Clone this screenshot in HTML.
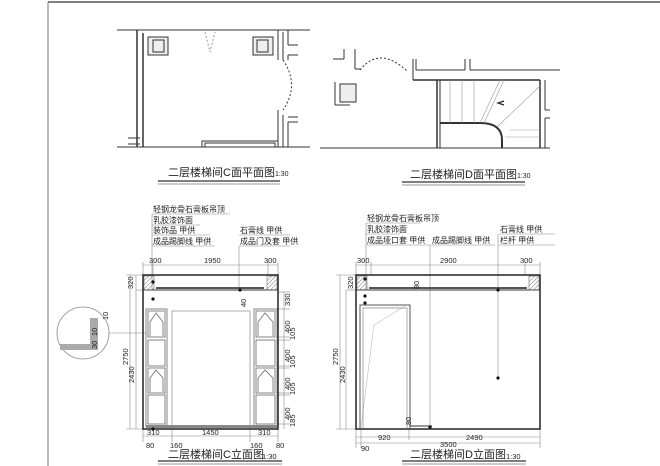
<!DOCTYPE html>
<html><head><meta charset="utf-8"><style>
html,body{margin:0;padding:0;background:#fff}
svg{display:block}
text{font-family:"Liberation Sans","Noto Sans CJK SC",sans-serif;fill:#222}
.c{font-family:"Liberation Sans","Noto Sans CJK SC",sans-serif}
</style></head><body>
<svg width="660" height="466" viewBox="0 0 660 466" xmlns="http://www.w3.org/2000/svg">
<defs>
<pattern id="h" width="3" height="3" patternUnits="userSpaceOnUse" patternTransform="rotate(45)"><line x1="0" y1="0" x2="0" y2="3" stroke="#777" stroke-width="1"/></pattern>
</defs>
<line x1="48" y1="2" x2="660" y2="2" stroke="#555" stroke-width="1.5"/>
<line x1="48" y1="2" x2="48" y2="466" stroke="#777" stroke-width="1"/>

<!-- Plan C -->
<g stroke="#333" fill="none" stroke-width="1">
<line x1="117" y1="30" x2="310" y2="30"/>
<line x1="117" y1="147" x2="310" y2="147"/>
<line x1="137" y1="30" x2="137" y2="147" stroke-width="1.5"/>
<line x1="143" y1="33" x2="143" y2="147" stroke-width="1.5"/>
<line x1="128" y1="138" x2="140" y2="138"/><line x1="128" y1="144" x2="140" y2="144"/>
<rect x="148" y="37" width="20" height="18" fill="#eee"/>
<rect x="153" y="40" width="11" height="12"/>
<rect x="253" y="37" width="20" height="18" fill="#eee"/>
<rect x="257" y="40" width="11" height="12"/>
<line x1="278" y1="30" x2="278" y2="60"/><line x1="283" y1="32" x2="283" y2="60"/>
<line x1="278" y1="110" x2="278" y2="147"/><line x1="283" y1="115" x2="283" y2="147"/>
<line x1="288" y1="30" x2="288" y2="45"/><line x1="288" y1="45" x2="298" y2="45"/>
<line x1="288" y1="55" x2="298" y2="55"/><line x1="288" y1="55" x2="288" y2="60"/>
<line x1="288" y1="117" x2="298" y2="117"/><line x1="288" y1="122" x2="298" y2="122"/>
<line x1="288" y1="122" x2="288" y2="147"/>
<path d="M283 60 Q300 85 283 110" stroke-dasharray="2 2"/>
<path d="M205 32 L210 52 L215 32" stroke-dasharray="2 2" stroke="#999"/>
<rect x="202" y="141" width="76" height="6"/>
<rect x="205" y="143" width="70" height="4"/>
</g>
<text x="168" y="176" font-size="11" class="c">二层楼梯间C面平面图<tspan font-size="7">1:30</tspan></text>
<line x1="158" y1="181" x2="280" y2="181" stroke="#333" stroke-width="1.2"/>
<line x1="158" y1="184" x2="280" y2="184" stroke="#333" stroke-width="0.6"/>

<!-- Plan D -->
<g stroke="#333" fill="none" stroke-width="1">
<line x1="320" y1="148" x2="550" y2="148"/>
<line x1="333" y1="59" x2="344" y2="59"/><line x1="344" y1="59" x2="344" y2="49"/>
<line x1="355" y1="49" x2="355" y2="69"/><line x1="355" y1="69" x2="360" y2="69"/>
<line x1="335" y1="82" x2="335" y2="105"/><line x1="335" y1="105" x2="350" y2="105"/>
<rect x="340" y="84" width="16" height="18" fill="#eee"/>
<path d="M360 70 Q380 45 408 72" stroke-dasharray="2 2"/>
<line x1="413" y1="59" x2="413" y2="80"/><line x1="416" y1="59" x2="416" y2="70"/>
<line x1="416" y1="70" x2="465" y2="70"/><line x1="465" y1="70" x2="465" y2="59"/>
<line x1="470" y1="59" x2="470" y2="70"/><line x1="470" y1="70" x2="560" y2="70"/>
<line x1="413" y1="80" x2="540" y2="80" stroke-width="1.5"/>
<line x1="437" y1="80" x2="437" y2="148" stroke-width="1.5"/>
<line x1="440" y1="80" x2="440" y2="148"/>
<line x1="540" y1="80" x2="540" y2="148" stroke-width="1.5"/>
<line x1="545" y1="80" x2="545" y2="110"/><line x1="545" y1="110" x2="550" y2="110"/>
<line x1="545" y1="118" x2="545" y2="148"/><line x1="545" y1="118" x2="550" y2="118"/>
<path d="M440 123 L480 123 Q502 123 502 140 L502 148" stroke-width="2"/>
<g stroke="#999" stroke-width="0.6">
<line x1="450" y1="80" x2="450" y2="123"/><line x1="462" y1="80" x2="462" y2="123"/><line x1="474" y1="80" x2="474" y2="123"/>
<line x1="480" y1="123" x2="500" y2="80"/><line x1="484" y1="123" x2="504" y2="80"/>
<line x1="497" y1="127" x2="540" y2="86"/><line x1="505" y1="137" x2="540" y2="137"/><line x1="510" y1="130" x2="540" y2="130"/>
</g>
</g>
<path d="M504 101 L498 103 L504 105" fill="none" stroke="#222" stroke-width="1.2"/>
<text x="410" y="178" font-size="11" class="c">二层楼梯间D面平面图<tspan font-size="7">1:30</tspan></text>
<line x1="402" y1="182" x2="525" y2="182" stroke="#333" stroke-width="1.2"/>
<line x1="402" y1="185" x2="525" y2="185" stroke="#333" stroke-width="0.6"/>

<!-- Elevation C -->
<g font-size="8">
<text x="153" y="212">轻钢龙骨石膏板吊顶</text>
<text x="153" y="223">乳胶漆饰面</text>
<text x="153" y="233">装饰品 甲供</text>
<text x="153" y="244">成品踢脚线 甲供</text>
<text x="240" y="233">石膏线 甲供</text>
<text x="240" y="244">成品门及套 甲供</text>
</g>
<g stroke="#888" stroke-width="0.6" fill="none">
<line x1="152" y1="214" x2="230" y2="214"/><line x1="152" y1="225" x2="200" y2="225"/><line x1="152" y1="235" x2="210" y2="235"/><line x1="152" y1="246" x2="215" y2="246"/>
<line x1="152" y1="214" x2="152" y2="290"/>
<line x1="239" y1="235" x2="290" y2="235"/><line x1="239" y1="246" x2="290" y2="246"/><line x1="239" y1="246" x2="239" y2="290"/>
<line x1="143" y1="265" x2="278" y2="265"/>
<line x1="143" y1="262" x2="143" y2="275"/><line x1="153" y1="262" x2="153" y2="275"/><line x1="268" y1="262" x2="268" y2="275"/><line x1="278" y1="262" x2="278" y2="275"/>
<line x1="136" y1="275" x2="136" y2="429"/><line x1="130" y1="275" x2="130" y2="429"/>
<line x1="126" y1="275" x2="143" y2="275"/><line x1="126" y1="429" x2="143" y2="429"/>
<line x1="136" y1="290" x2="143" y2="290"/>
<line x1="284" y1="292" x2="284" y2="429"/>
<line x1="278" y1="292" x2="290" y2="292"/><line x1="278" y1="309" x2="290" y2="309"/><line x1="278" y1="337" x2="290" y2="337"/><line x1="278" y1="340" x2="290" y2="340"/><line x1="278" y1="366" x2="290" y2="366"/><line x1="278" y1="368" x2="290" y2="368"/><line x1="278" y1="393" x2="290" y2="393"/><line x1="278" y1="395" x2="290" y2="395"/><line x1="278" y1="424" x2="290" y2="424"/>
<line x1="143" y1="436" x2="278" y2="436"/>
<line x1="143" y1="429" x2="143" y2="442"/><line x1="172" y1="429" x2="172" y2="442"/><line x1="250" y1="429" x2="250" y2="442"/><line x1="278" y1="429" x2="278" y2="442"/>
<line x1="109" y1="333" x2="146" y2="333"/>
</g>
<rect x="143" y="275" width="135" height="154" fill="none" stroke="#222" stroke-width="1.5"/>
<line x1="143" y1="290" x2="278" y2="290" stroke="#333"/>
<rect x="144" y="276" width="10" height="14" fill="url(#h)" stroke="#555" stroke-width="0.5"/>
<rect x="267" y="276" width="10" height="14" fill="url(#h)" stroke="#555" stroke-width="0.5"/>
<line x1="156" y1="288" x2="264" y2="288" stroke="#555" stroke-width="2"/>
<rect x="172" y="311" width="78" height="116" fill="none" stroke="#999" stroke-width="0.8"/>
<g fill="none" stroke="#666" stroke-width="0.8">
<rect x="146" y="309" width="21" height="118"/>
<rect x="148" y="311" width="17" height="26"/><rect x="148" y="340" width="17" height="26"/><rect x="148" y="368" width="17" height="25"/><rect x="148" y="395" width="17" height="29"/>
<rect x="254" y="309" width="23" height="118"/>
<rect x="256" y="311" width="19" height="26"/><rect x="256" y="340" width="19" height="26"/><rect x="256" y="368" width="19" height="25"/><rect x="256" y="395" width="19" height="29"/>
<path d="M150 336 L150 322 L156 313 L163 322 L163 336"/><path d="M258 336 L258 322 L265 313 L273 322 L273 336"/>
<path d="M150 392 L150 378 L156 370 L163 378 L163 392"/><path d="M258 392 L258 378 L265 370 L273 378 L273 392"/>
</g>
<rect x="146" y="425" width="131" height="3" fill="#888"/>
<circle cx="153" cy="282" r="1.6" fill="#111"/><circle cx="153" cy="299" r="1.6" fill="#111"/><circle cx="153" cy="429" r="1.6" fill="#111"/><circle cx="240" cy="290" r="1.6" fill="#111"/>
<circle cx="83" cy="333" r="26" fill="#fff" stroke="#888" stroke-width="0.8"/>
<rect x="60" y="344" width="38" height="6" fill="#aaa"/>
<rect x="90" y="318" width="8" height="32" fill="#aaa"/>
<g font-size="7.5">
<text x="149" y="263">300</text><text x="204" y="263">1950</text><text x="264" y="263">300</text>
<text x="147" y="435">310</text><text x="202" y="435">1450</text><text x="258" y="435">310</text>
<text x="146" y="448">80</text><text x="170" y="448">160</text><text x="250" y="448">160</text><text x="276" y="448">80</text>
<text transform="translate(133,289) rotate(-90)">320</text>
<text transform="translate(128,365) rotate(-90)">2750</text>
<text transform="translate(134,383) rotate(-90)">2430</text>
<text transform="translate(246,307) rotate(-90)">40</text>
<text transform="translate(290,306) rotate(-90)">330</text>
<text transform="translate(290,333) rotate(-90)">400</text>
<text transform="translate(295,340) rotate(-90)">105</text>
<text transform="translate(290,362) rotate(-90)">400</text>
<text transform="translate(295,368) rotate(-90)">105</text>
<text transform="translate(290,390) rotate(-90)">400</text>
<text transform="translate(295,395) rotate(-90)">105</text>
<text transform="translate(290,420) rotate(-90)">400</text>
<text transform="translate(295,427) rotate(-90)">185</text>
<text transform="translate(97,349) rotate(-90)">30</text>
<text transform="translate(97,336) rotate(-90)">10</text>
<text transform="translate(108,320) rotate(-90)">10</text>
</g>
<text x="168" y="458" font-size="11" class="c">二层楼梯间C立面图</text>
<text x="262" y="459" font-size="7.5">1:30</text>
<line x1="158" y1="461" x2="282" y2="461" stroke="#333" stroke-width="1.2"/>
<line x1="158" y1="464" x2="282" y2="464" stroke="#333" stroke-width="0.6"/>

<!-- Elevation D -->
<g font-size="8">
<text x="367" y="221">轻钢龙骨石膏板吊顶</text>
<text x="367" y="232">乳胶漆饰面</text>
<text x="367" y="243">成品垭口套 甲供</text>
<text x="432" y="243">成品踢脚线 甲供</text>
<text x="500" y="232">石膏线 甲供</text>
<text x="500" y="243">栏杆 甲供</text>
</g>
<g stroke="#888" stroke-width="0.6" fill="none">
<line x1="366" y1="223" x2="420" y2="223"/><line x1="366" y1="234" x2="400" y2="234"/><line x1="366" y1="245" x2="430" y2="245"/>
<line x1="366" y1="223" x2="366" y2="290"/>
<line x1="431" y1="245" x2="495" y2="245"/><line x1="430" y1="245" x2="430" y2="427"/>
<line x1="499" y1="234" x2="555" y2="234"/><line x1="499" y1="245" x2="555" y2="245"/><line x1="498" y1="234" x2="498" y2="378"/>
<line x1="356" y1="265" x2="540" y2="265"/>
<line x1="356" y1="262" x2="356" y2="275"/><line x1="371" y1="262" x2="371" y2="275"/><line x1="525" y1="262" x2="525" y2="275"/><line x1="540" y1="262" x2="540" y2="275"/>
<line x1="340" y1="275" x2="340" y2="429"/><line x1="346" y1="290" x2="346" y2="429"/>
<line x1="336" y1="275" x2="356" y2="275"/><line x1="336" y1="429" x2="356" y2="429"/><line x1="346" y1="290" x2="356" y2="290"/>
<line x1="356" y1="437" x2="540" y2="437"/><line x1="356" y1="443" x2="540" y2="443"/>
<line x1="356" y1="429" x2="356" y2="448"/><line x1="361" y1="429" x2="361" y2="448"/><line x1="409" y1="429" x2="409" y2="440"/><line x1="540" y1="429" x2="540" y2="448"/>
<path d="M361 427 L374 325 L405 306" stroke="#bbb"/>
</g>
<rect x="356" y="275" width="184" height="154" fill="none" stroke="#222" stroke-width="1.5"/>
<line x1="356" y1="290" x2="540" y2="290" stroke="#333"/>
<rect x="357" y="276" width="10" height="14" fill="url(#h)" stroke="#555" stroke-width="0.5"/>
<rect x="529" y="276" width="10" height="14" fill="url(#h)" stroke="#555" stroke-width="0.5"/>
<line x1="369" y1="288" x2="527" y2="288" stroke="#555" stroke-width="2"/>
<path d="M360 428 L360 305 L410 305 L410 428" fill="none" stroke="#555" stroke-width="1"/>
<path d="M363 428 L363 308 L407 308 L407 428" fill="none" stroke="#888" stroke-width="0.7"/>
<line x1="410" y1="426" x2="432" y2="426" stroke="#333"/>
<circle cx="365" cy="279" r="1.6" fill="#111"/><circle cx="365" cy="296" r="1.6" fill="#111"/><circle cx="365" cy="303" r="1.6" fill="#111"/><circle cx="498" cy="290" r="1.6" fill="#111"/><circle cx="498" cy="378" r="1.6" fill="#111"/><circle cx="430" cy="427" r="1.6" fill="#111"/>
<g font-size="7.5">
<text x="357" y="263">300</text><text x="440" y="263">2900</text><text x="520" y="263">300</text>
<text x="378" y="440">920</text><text x="466" y="440">2490</text><text x="440" y="447">3500</text><text x="361" y="451">90</text>
<text transform="translate(353,289) rotate(-90)">320</text>
<text transform="translate(338,365) rotate(-90)">2750</text>
<text transform="translate(345,383) rotate(-90)">2430</text>
<text transform="translate(419,289) rotate(-90)">80</text>
<text transform="translate(411,425) rotate(-90)">80</text>
</g>
<text x="410" y="458" font-size="11" class="c">二层楼梯间D立面图</text>
<text x="506" y="459" font-size="7.5">1:30</text>
<line x1="402" y1="461" x2="526" y2="461" stroke="#333" stroke-width="1.2"/>
<line x1="402" y1="464" x2="526" y2="464" stroke="#333" stroke-width="0.6"/>
</svg>
</body></html>
